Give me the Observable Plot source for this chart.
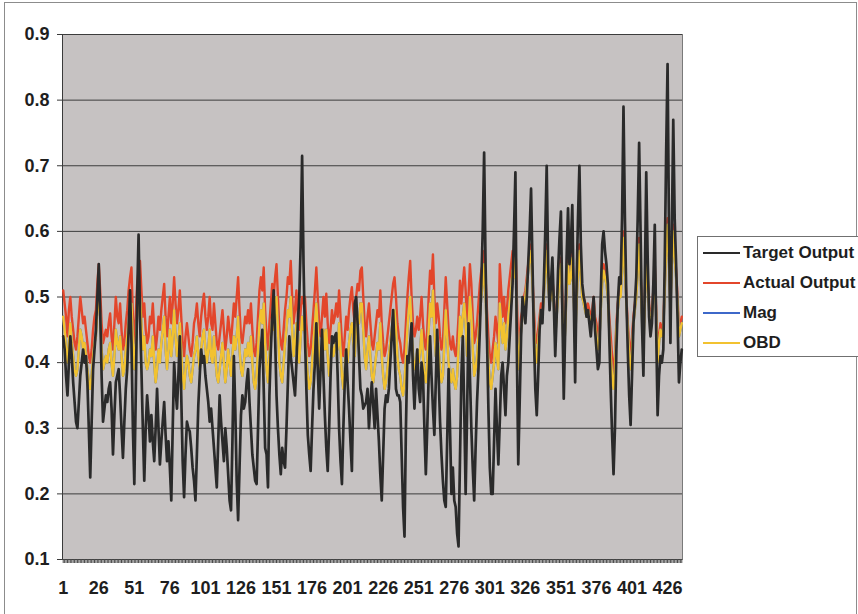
<!DOCTYPE html>
<html><head><meta charset="utf-8">
<script src="https://cdn.jsdelivr.net/npm/d3@7"></script>
<script src="https://cdn.jsdelivr.net/npm/@observablehq/plot@0.6"></script>
<style>
html,body{margin:0;padding:0;background:#fff;}
#wrap{position:relative;width:858px;height:614px;overflow:hidden;}
#border{position:absolute;left:4px;top:2px;width:851px;height:640px;border:1px solid #8c8c8c;pointer-events:none;}
#legend{position:absolute;left:697px;top:236px;width:165px;height:121px;border:1px solid #707070;background:#fff;box-sizing:border-box;font-family:'Liberation Sans',Arial,sans-serif;font-weight:bold;font-size:17px;color:#1e1e1e;}
.row{position:absolute;left:5px;height:20px;display:flex;align-items:center;white-space:nowrap;}
.sw{width:37px;height:2px;margin-right:3px;}
</style></head><body>
<div id="wrap"><div id="border"></div><div id="legend"></div></div>
<script>
const target = [
0.44,0.42,0.38,0.35,0.40,0.44,0.41,0.37,0.34,0.31,
0.30,0.34,0.38,0.40,0.42,0.40,0.41,0.37,0.30,0.225,
0.31,0.39,0.42,0.45,0.50,0.55,0.48,0.38,0.31,0.33,
0.35,0.34,0.36,0.37,0.33,0.26,0.32,0.37,0.38,0.39,
0.35,0.30,0.255,0.31,0.36,0.39,0.45,0.51,0.43,0.30,
0.215,0.35,0.50,0.595,0.47,0.39,0.30,0.22,0.30,0.35,
0.32,0.28,0.32,0.28,0.25,0.30,0.36,0.30,0.245,0.28,
0.31,0.34,0.29,0.25,0.28,0.24,0.19,0.30,0.40,0.36,
0.33,0.38,0.44,0.35,0.25,0.195,0.26,0.31,0.30,0.295,
0.27,0.24,0.22,0.19,0.26,0.335,0.38,0.42,0.40,0.41,
0.38,0.36,0.34,0.31,0.33,0.30,0.27,0.24,0.21,0.28,
0.35,0.31,0.28,0.25,0.30,0.27,0.23,0.19,0.175,0.28,
0.41,0.33,0.22,0.16,0.24,0.32,0.35,0.33,0.34,0.37,
0.39,0.34,0.30,0.26,0.24,0.22,0.215,0.30,0.39,0.42,
0.45,0.36,0.27,0.26,0.21,0.35,0.42,0.47,0.51,0.44,
0.35,0.30,0.26,0.23,0.27,0.25,0.24,0.30,0.37,0.44,
0.41,0.39,0.37,0.35,0.40,0.46,0.50,0.58,0.715,0.55,
0.44,0.36,0.29,0.26,0.235,0.30,0.36,0.40,0.46,0.39,
0.33,0.39,0.45,0.38,0.32,0.27,0.235,0.30,0.38,0.44,
0.43,0.44,0.445,0.38,0.30,0.25,0.215,0.30,0.37,0.42,
0.37,0.33,0.28,0.235,0.36,0.49,0.50,0.46,0.41,0.36,
0.35,0.33,0.335,0.34,0.36,0.30,0.34,0.37,0.335,0.30,
0.36,0.32,0.28,0.23,0.19,0.26,0.33,0.35,0.34,0.36,
0.40,0.44,0.48,0.42,0.36,0.35,0.35,0.34,0.26,0.18,
0.135,0.30,0.41,0.40,0.43,0.46,0.38,0.33,0.38,0.42,
0.36,0.34,0.40,0.38,0.30,0.23,0.30,0.38,0.44,0.38,
0.33,0.29,0.37,0.45,0.38,0.31,0.26,0.22,0.19,0.18,
0.28,0.39,0.30,0.20,0.24,0.19,0.18,0.14,0.12,0.25,
0.38,0.44,0.33,0.20,0.32,0.46,0.38,0.30,0.24,0.19,
0.27,0.34,0.39,0.45,0.52,0.60,0.72,0.55,0.44,0.33,
0.24,0.20,0.20,0.28,0.36,0.30,0.245,0.31,0.38,0.40,
0.36,0.32,0.38,0.40,0.44,0.48,0.52,0.60,0.69,0.42,
0.245,0.34,0.44,0.50,0.48,0.46,0.50,0.55,0.60,0.665,
0.55,0.44,0.36,0.32,0.38,0.45,0.48,0.46,0.52,0.60,
0.70,0.55,0.48,0.52,0.56,0.49,0.41,0.47,0.54,0.59,
0.63,0.48,0.345,0.45,0.56,0.635,0.55,0.58,0.64,0.50,
0.37,0.52,0.62,0.70,0.58,0.52,0.50,0.49,0.47,0.48,
0.46,0.44,0.47,0.50,0.45,0.42,0.39,0.40,0.50,0.58,
0.60,0.57,0.55,0.52,0.44,0.36,0.29,0.23,0.30,0.42,
0.49,0.53,0.52,0.62,0.79,0.62,0.50,0.42,0.35,0.305,
0.38,0.46,0.49,0.53,0.62,0.735,0.60,0.46,0.38,0.52,
0.69,0.56,0.47,0.44,0.46,0.52,0.61,0.45,0.32,0.38,
0.41,0.40,0.42,0.55,0.72,0.855,0.60,0.43,0.60,0.77,
0.62,0.55,0.47,0.37,0.40,0.42
];
const actual = [
0.51,0.49,0.47,0.44,0.48,0.50,0.47,0.45,0.43,0.42,
0.44,0.47,0.50,0.48,0.46,0.47,0.45,0.43,0.41,0.40,
0.42,0.45,0.47,0.48,0.52,0.55,0.51,0.46,0.43,0.44,
0.45,0.44,0.46,0.475,0.44,0.42,0.46,0.50,0.47,0.46,
0.49,0.45,0.42,0.43,0.46,0.48,0.51,0.53,0.545,0.47,
0.43,0.47,0.52,0.54,0.555,0.51,0.47,0.49,0.45,0.43,
0.44,0.47,0.46,0.49,0.45,0.42,0.44,0.47,0.45,0.48,
0.50,0.52,0.47,0.44,0.47,0.50,0.46,0.49,0.53,0.49,
0.46,0.48,0.51,0.47,0.43,0.41,0.44,0.46,0.44,0.42,
0.41,0.43,0.46,0.47,0.49,0.46,0.44,0.47,0.49,0.505,
0.47,0.45,0.47,0.50,0.46,0.45,0.49,0.46,0.43,0.42,
0.44,0.46,0.48,0.45,0.42,0.44,0.47,0.45,0.43,0.46,
0.49,0.47,0.50,0.53,0.48,0.44,0.43,0.45,0.47,0.46,
0.48,0.46,0.49,0.45,0.42,0.41,0.43,0.47,0.51,0.53,
0.51,0.545,0.48,0.44,0.42,0.46,0.49,0.52,0.50,0.53,
0.55,0.50,0.45,0.43,0.42,0.45,0.48,0.50,0.53,0.52,
0.555,0.50,0.46,0.48,0.51,0.47,0.45,0.48,0.50,0.49,
0.50,0.46,0.43,0.41,0.42,0.45,0.48,0.51,0.545,0.50,
0.46,0.44,0.47,0.50,0.47,0.505,0.46,0.43,0.45,0.48,
0.46,0.47,0.49,0.47,0.51,0.47,0.43,0.41,0.44,0.47,
0.45,0.48,0.50,0.515,0.48,0.46,0.50,0.52,0.51,0.54,
0.545,0.50,0.46,0.44,0.47,0.49,0.46,0.43,0.42,0.44,
0.46,0.48,0.47,0.51,0.46,0.43,0.41,0.42,0.44,0.46,
0.48,0.50,0.52,0.53,0.50,0.46,0.44,0.43,0.41,0.40,
0.42,0.46,0.50,0.53,0.555,0.50,0.46,0.44,0.45,0.47,
0.45,0.47,0.50,0.46,0.43,0.42,0.45,0.50,0.54,0.52,
0.565,0.50,0.46,0.49,0.47,0.44,0.42,0.43,0.48,0.53,
0.49,0.45,0.43,0.42,0.44,0.42,0.41,0.43,0.47,0.525,
0.49,0.52,0.545,0.51,0.46,0.50,0.55,0.52,0.47,0.43,
0.44,0.46,0.49,0.52,0.54,0.55,0.57,0.53,0.48,0.44,
0.41,0.40,0.42,0.44,0.47,0.45,0.43,0.55,0.51,0.47,
0.50,0.46,0.48,0.51,0.53,0.55,0.57,0.56,0.585,0.50,
0.42,0.44,0.47,0.48,0.50,0.51,0.53,0.55,0.57,0.58,
0.53,0.48,0.44,0.43,0.45,0.47,0.49,0.48,0.51,0.55,
0.58,0.53,0.50,0.51,0.53,0.50,0.46,0.48,0.51,0.54,
0.56,0.50,0.44,0.47,0.52,0.56,0.53,0.54,0.57,0.51,
0.45,0.50,0.55,0.58,0.54,0.51,0.50,0.49,0.48,0.49,
0.48,0.47,0.48,0.50,0.47,0.46,0.44,0.45,0.49,0.53,
0.55,0.54,0.53,0.51,0.47,0.44,0.41,0.38,0.41,0.46,
0.49,0.51,0.51,0.55,0.60,0.55,0.50,0.46,0.43,0.41,
0.44,0.47,0.49,0.51,0.55,0.59,0.54,0.48,0.44,0.50,
0.57,0.53,0.49,0.47,0.48,0.51,0.55,0.48,0.42,0.44,
0.46,0.45,0.46,0.52,0.58,0.62,0.56,0.49,0.56,0.61,
0.57,0.54,0.50,0.45,0.46,0.47
];
const mag = [
0.47,0.45,0.42,0.40,0.43,0.46,0.43,0.41,0.39,0.38,
0.39,0.42,0.45,0.44,0.42,0.43,0.41,0.39,0.37,0.36,
0.38,0.41,0.43,0.44,0.48,0.50,0.47,0.42,0.39,0.40,
0.41,0.40,0.42,0.43,0.40,0.38,0.41,0.45,0.43,0.42,
0.44,0.41,0.38,0.39,0.42,0.44,0.46,0.48,0.49,0.43,
0.39,0.43,0.47,0.50,0.50,0.46,0.42,0.44,0.40,0.39,
0.40,0.42,0.41,0.44,0.40,0.37,0.39,0.42,0.40,0.43,
0.45,0.47,0.42,0.39,0.42,0.45,0.41,0.44,0.48,0.44,
0.41,0.43,0.46,0.42,0.38,0.36,0.39,0.41,0.40,0.38,
0.37,0.39,0.41,0.42,0.44,0.41,0.39,0.42,0.44,0.45,
0.42,0.40,0.42,0.45,0.41,0.40,0.44,0.41,0.38,0.37,
0.39,0.41,0.43,0.40,0.37,0.39,0.42,0.40,0.38,0.41,
0.44,0.42,0.44,0.47,0.42,0.39,0.38,0.40,0.42,0.41,
0.43,0.41,0.44,0.40,0.37,0.36,0.38,0.42,0.46,0.48,
0.46,0.49,0.43,0.39,0.37,0.41,0.44,0.47,0.45,0.48,
0.50,0.45,0.40,0.38,0.37,0.40,0.43,0.45,0.48,0.47,
0.50,0.45,0.41,0.43,0.46,0.42,0.40,0.44,0.47,0.45,
0.45,0.41,0.38,0.36,0.37,0.40,0.43,0.46,0.49,0.45,
0.41,0.39,0.42,0.45,0.42,0.45,0.41,0.38,0.40,0.43,
0.41,0.42,0.44,0.42,0.46,0.42,0.38,0.36,0.39,0.42,
0.40,0.43,0.45,0.46,0.43,0.41,0.45,0.47,0.46,0.49,
0.49,0.45,0.41,0.39,0.42,0.44,0.41,0.38,0.37,0.39,
0.41,0.43,0.42,0.46,0.41,0.38,0.36,0.37,0.39,0.41,
0.43,0.45,0.47,0.48,0.45,0.41,0.39,0.38,0.36,0.35,
0.37,0.41,0.45,0.48,0.50,0.45,0.41,0.39,0.40,0.42,
0.40,0.42,0.45,0.41,0.38,0.37,0.40,0.45,0.49,0.47,
0.51,0.45,0.41,0.44,0.42,0.39,0.37,0.38,0.43,0.48,
0.44,0.40,0.38,0.37,0.39,0.37,0.36,0.38,0.42,0.47,
0.44,0.47,0.49,0.46,0.41,0.45,0.50,0.47,0.42,0.38,
0.39,0.41,0.44,0.47,0.50,0.52,0.55,0.50,0.44,0.40,
0.37,0.36,0.38,0.40,0.43,0.41,0.39,0.49,0.46,0.43,
0.46,0.42,0.44,0.47,0.49,0.51,0.54,0.53,0.56,0.46,
0.39,0.42,0.45,0.47,0.49,0.50,0.52,0.54,0.56,0.57,
0.52,0.46,0.42,0.40,0.43,0.46,0.48,0.47,0.50,0.54,
0.57,0.52,0.49,0.50,0.52,0.49,0.44,0.47,0.50,0.53,
0.55,0.48,0.41,0.45,0.51,0.55,0.52,0.53,0.56,0.50,
0.43,0.49,0.54,0.57,0.53,0.50,0.49,0.48,0.47,0.48,
0.47,0.46,0.47,0.49,0.46,0.44,0.42,0.43,0.48,0.52,
0.54,0.53,0.52,0.50,0.45,0.41,0.38,0.36,0.39,0.45,
0.48,0.50,0.50,0.54,0.59,0.54,0.49,0.45,0.41,0.39,
0.42,0.46,0.48,0.50,0.54,0.58,0.53,0.47,0.42,0.49,
0.56,0.52,0.48,0.46,0.47,0.50,0.54,0.47,0.40,0.43,
0.45,0.44,0.45,0.51,0.57,0.61,0.55,0.48,0.55,0.60,
0.56,0.53,0.49,0.44,0.45,0.46
];
const obd = [
0.47,0.45,0.42,0.40,0.43,0.46,0.43,0.41,0.39,0.38,
0.39,0.42,0.45,0.44,0.42,0.43,0.41,0.39,0.37,0.36,
0.38,0.41,0.43,0.44,0.48,0.50,0.47,0.42,0.39,0.40,
0.41,0.40,0.42,0.43,0.40,0.38,0.41,0.45,0.43,0.42,
0.44,0.41,0.38,0.39,0.42,0.44,0.46,0.48,0.49,0.43,
0.39,0.43,0.47,0.50,0.50,0.46,0.42,0.44,0.40,0.39,
0.40,0.42,0.41,0.44,0.40,0.37,0.39,0.42,0.40,0.43,
0.45,0.47,0.42,0.39,0.42,0.45,0.41,0.44,0.48,0.44,
0.41,0.43,0.46,0.42,0.38,0.36,0.39,0.41,0.40,0.38,
0.37,0.39,0.41,0.42,0.44,0.41,0.39,0.42,0.44,0.45,
0.42,0.40,0.42,0.45,0.41,0.40,0.44,0.41,0.38,0.37,
0.39,0.41,0.43,0.40,0.37,0.39,0.42,0.40,0.38,0.41,
0.44,0.42,0.44,0.47,0.42,0.39,0.38,0.40,0.42,0.41,
0.43,0.41,0.44,0.40,0.37,0.36,0.38,0.42,0.46,0.48,
0.46,0.49,0.43,0.39,0.37,0.41,0.44,0.47,0.45,0.48,
0.50,0.45,0.40,0.38,0.37,0.40,0.43,0.45,0.48,0.47,
0.50,0.45,0.41,0.43,0.46,0.42,0.40,0.44,0.47,0.45,
0.45,0.41,0.38,0.36,0.37,0.40,0.43,0.46,0.49,0.45,
0.41,0.39,0.42,0.45,0.42,0.45,0.41,0.38,0.40,0.43,
0.41,0.42,0.44,0.42,0.46,0.42,0.38,0.36,0.39,0.42,
0.40,0.43,0.45,0.46,0.43,0.41,0.45,0.47,0.46,0.49,
0.49,0.45,0.41,0.39,0.42,0.44,0.41,0.38,0.37,0.39,
0.41,0.43,0.42,0.46,0.41,0.38,0.36,0.37,0.39,0.41,
0.43,0.45,0.47,0.48,0.45,0.41,0.39,0.38,0.36,0.35,
0.37,0.41,0.45,0.48,0.50,0.45,0.41,0.39,0.40,0.42,
0.40,0.42,0.45,0.41,0.38,0.37,0.40,0.45,0.49,0.47,
0.51,0.45,0.41,0.44,0.42,0.39,0.37,0.38,0.43,0.48,
0.44,0.40,0.38,0.37,0.39,0.37,0.36,0.38,0.42,0.47,
0.44,0.47,0.49,0.46,0.41,0.45,0.50,0.47,0.42,0.38,
0.39,0.41,0.44,0.47,0.50,0.52,0.55,0.50,0.44,0.40,
0.37,0.36,0.38,0.40,0.43,0.41,0.39,0.49,0.46,0.43,
0.46,0.42,0.44,0.47,0.49,0.51,0.54,0.53,0.56,0.46,
0.39,0.42,0.45,0.47,0.49,0.50,0.52,0.54,0.56,0.57,
0.52,0.46,0.42,0.40,0.43,0.46,0.48,0.47,0.50,0.54,
0.57,0.52,0.49,0.50,0.52,0.49,0.44,0.47,0.50,0.53,
0.55,0.48,0.41,0.45,0.51,0.55,0.52,0.53,0.56,0.50,
0.43,0.49,0.54,0.57,0.53,0.50,0.49,0.48,0.47,0.48,
0.47,0.46,0.47,0.49,0.46,0.44,0.42,0.43,0.48,0.52,
0.54,0.53,0.52,0.50,0.45,0.41,0.38,0.36,0.39,0.45,
0.48,0.50,0.50,0.54,0.59,0.54,0.49,0.45,0.41,0.39,
0.42,0.46,0.48,0.50,0.54,0.58,0.53,0.47,0.42,0.49,
0.56,0.52,0.48,0.46,0.47,0.50,0.54,0.47,0.40,0.43,
0.45,0.44,0.45,0.51,0.57,0.61,0.55,0.48,0.55,0.60,
0.56,0.53,0.49,0.44,0.45,0.46
];
const seriesNames = ["Target Output", "Actual Output", "Mag", "OBD"];
const seriesColors = ["#2a2a2a", "#e3462b", "#3d68c9", "#f2c230"];
const xTickLabels = [1, 26, 51, 76, 101, 126, 151, 176, 201, 226, 251, 276, 301, 326, 351, 376, 401, 426];
const yTicks = [0.1, 0.2, 0.3, 0.4, 0.5, 0.6, 0.7, 0.8, 0.9];

const rows = target.map((t, k) => ({i: k + 1, target: t, actual: actual[k], mag: mag[k], obd: obd[k]}));
const N = rows.length;
const indices = rows.map(r => r.i);
const keys = ["target", "actual", "mag", "obd"];
const widths = [2.7, 2.4, 2.4, 2.4];
// draw order: coloured series first, Target Output on top
const drawOrder = [1, 2, 3, 0];

const chart = Plot.plot({
  width: 858,
  height: 614,
  marginLeft: 62,
  marginRight: 176,
  marginTop: 34,
  marginBottom: 55,
  style: {fontFamily: "'Liberation Sans', Arial, sans-serif", fontSize: "18px", fontWeight: "bold", color: "#1e1e1e", background: "transparent", overflow: "visible"},
  x: {type: "linear", domain: [0.5, N + 0.5]},
  y: {domain: [0.1, 0.9]},
  marks: [
    Plot.frame({fill: "#c6c2c2", stroke: "#7a7a7a"}),
    Plot.ruleY(yTicks, {stroke: "#3c3c3c", strokeWidth: 1}),
    Plot.ruleX([0.5], {stroke: "#3a3a3a", strokeWidth: 1}),
    Plot.axisY({ticks: yTicks, tickFormat: d3.format(".1f"), tickSize: 5, tickPadding: 8, label: null, stroke: "#3a3a3a"}),
    Plot.axisX({ticks: indices, tickSize: 4, tickPadding: 18, label: null, stroke: "#4a4a4a",
      tickFormat: d => xTickLabels.includes(d) ? String(d) : ""}),
    ...drawOrder.map(j => Plot.line(rows, {x: "i", y: keys[j], stroke: seriesColors[j], strokeWidth: widths[j], strokeLinejoin: "round"}))
  ]
});
document.getElementById("wrap").prepend(chart);

const legend = document.getElementById("legend");
seriesNames.forEach((name, j) => {
  const row = document.createElement("div");
  row.className = "row";
  row.style.top = (6 + j * 30) + "px";
  const sw = document.createElement("div");
  sw.className = "sw";
  sw.style.background = seriesColors[j];
  const label = document.createElement("span");
  label.textContent = name;
  row.appendChild(sw);
  row.appendChild(label);
  legend.appendChild(row);
});
</script>
</body></html>
